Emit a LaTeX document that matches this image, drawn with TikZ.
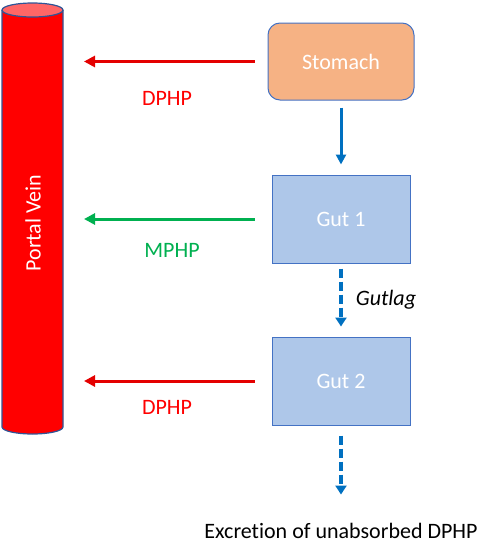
\documentclass[tikz,border=0pt]{standalone}
\usepackage{fontspec}
\setmainfont{Carlito}[Ligatures=NoCommon]
\usepackage{tikz}
\usetikzlibrary{positioning,calc}
\usetikzlibrary{arrows.meta}
\definecolor{veinred}{RGB}{255, 0, 0}
\definecolor{veintop}{RGB}{255, 102, 102}
\definecolor{veinline}{RGB}{47, 85, 151}
\definecolor{boxline}{RGB}{68, 114, 196}
\definecolor{stomachfill}{RGB}{246, 178, 132}
\definecolor{gutfill}{RGB}{174, 199, 233}
\definecolor{flowblue}{RGB}{0, 112, 192}
\definecolor{arrowred}{RGB}{228, 0, 0}
\definecolor{mphpgreen}{RGB}{0, 176, 80}

\begin{document}
\begin{tikzpicture}[x=1pt,y=-1pt,font=\fontsize{22}{26}\selectfont,
	redarrow/.style={-{Triangle[length=11pt,width=11pt]},draw=arrowred,line width=3pt},
	greenarrow/.style={-{Triangle[length=11pt,width=11pt]},draw=mphpgreen,line width=3pt},
	bluearrow/.style={-{Triangle[length=10pt,width=10pt]},draw=flowblue,line width=3pt},
	dasharrow/.style={-{Triangle[length=9pt,width=11pt]},draw=flowblue,line width=3.5pt,dash pattern=on 9pt off 4pt},
	gutbox/.style={rectangle,draw=boxline,fill=gutfill,line width=1pt,minimum width=138pt,minimum height=88pt,text=white}]
	\useasboundingbox (0,0) rectangle (484,544);
	
	% portal vein
	\draw[draw=veinline,fill=veinred,line width=1.2pt] (2,10) -- (2,427) arc[start angle=180,end angle=0,x radius=30.5,y radius=7] -- (63,10);
	\draw[draw=veinline,fill=veintop,line width=1.2pt] (32.5,10) ellipse[x radius=30.5,y radius=7];
	\node[rotate=90,text=white] (veinlabel) at(33,223) {Portal Vein};
	
	\node[rectangle,rounded corners=12pt,draw=boxline,fill=stomachfill,line width=1pt,minimum width=146pt,minimum height=77pt,text=white] (stomach) at(341,61.5) {Stomach};
	\node[gutbox] (gut1) at(341,219) {Gut 1};
	\node[gutbox] (gut2) at(341,381) {Gut 2};
	\node[anchor=base,inner sep=0pt] (excretion) at(341,538) {Excretion of unabsorbed DPHP};
	
	\coordinate (vein1) at(84,61.5);
	\coordinate (vein2) at(84,219);
	\coordinate (vein3) at(84,381);
	
	\draw [redarrow,shorten <=13pt] (stomach.west) -- (vein1) node[text=veinred] at(167,98) {DPHP};
	\draw [greenarrow,shorten <=17pt] (gut1.west) -- (vein2) node[text=mphpgreen] at(172,250) {MPHP};
	\draw [redarrow,shorten <=17pt] (gut2.west) -- (vein3) node[text=veinred] at(167,407) {DPHP};
	
	\draw [bluearrow,shorten <=7pt,shorten >=10pt] (stomach) -- (gut1);
	\draw [dasharrow,shorten <=5pt,shorten >=10pt] (gut1) -- (gut2) node[font=\fontsize{22}{26}\selectfont\itshape] at(386,300) {Gutlag};
	\draw [dasharrow,shorten <=10pt,shorten >=28pt] (gut2) -- (excretion.north);
	
\end{tikzpicture}
\end{document}
